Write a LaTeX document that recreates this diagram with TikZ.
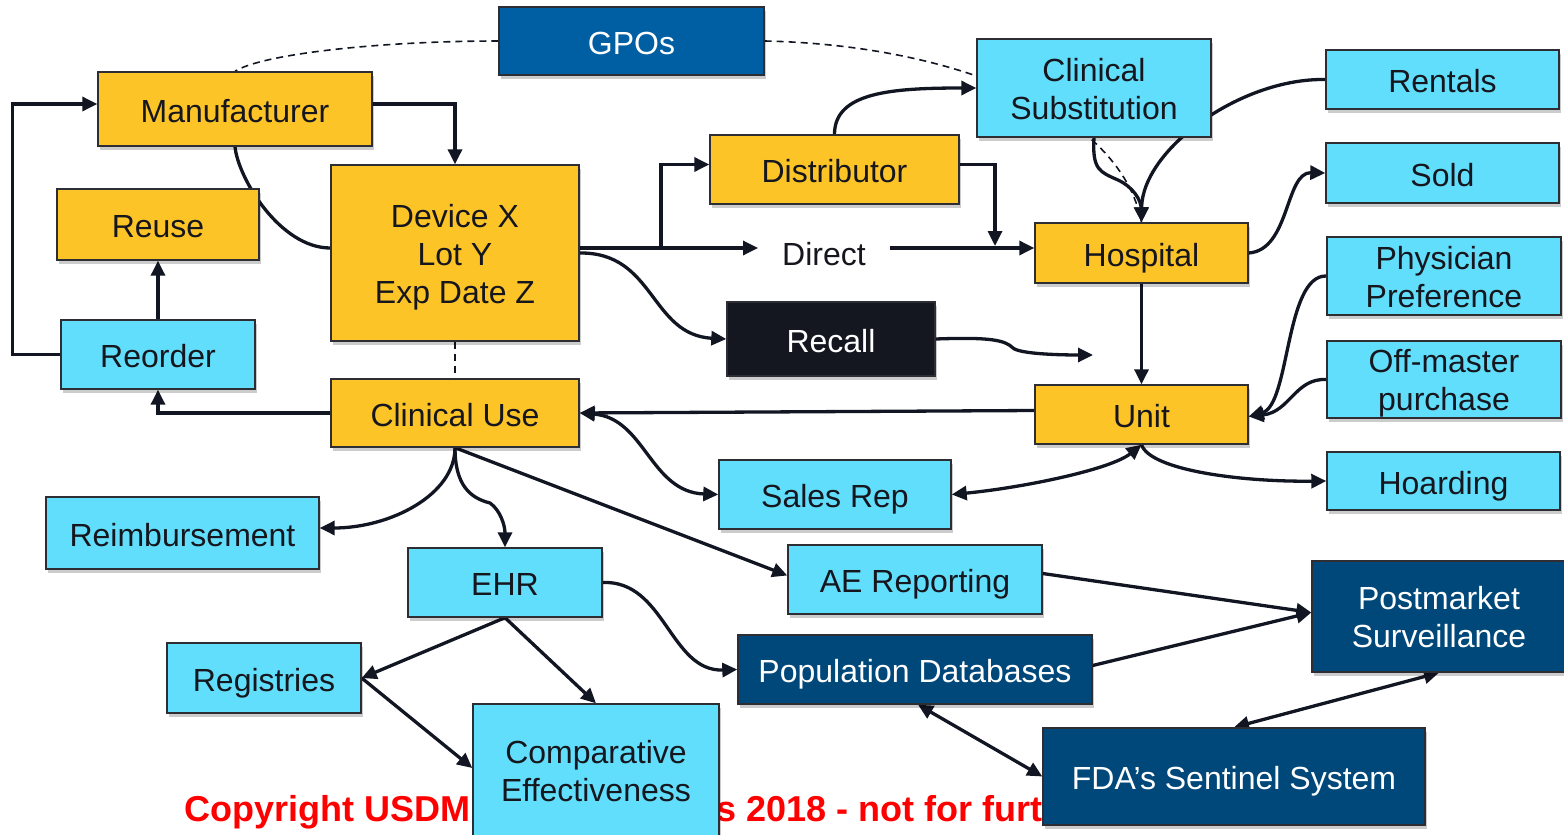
\documentclass[tikz,border=0pt]{standalone}
\usepackage{fontspec}
\setmainfont{Liberation Sans}
\usetikzlibrary{arrows.meta,shadows}

\definecolor{ylw}{RGB}{252,196,38}
\definecolor{cyn}{RGB}{97,222,251}
\definecolor{gpoblue}{RGB}{0,94,162}
\definecolor{navy}{RGB}{0,72,122}
\definecolor{blk}{RGB}{20,22,32}
\definecolor{wire}{RGB}{18,22,35}
\definecolor{edge}{RGB}{45,45,52}
\definecolor{ink}{RGB}{22,22,30}

\pgfdeclarelayer{bg}
\pgfsetlayers{bg,main}

\begin{document}
\begin{tikzpicture}[x=1pt,y=-1pt,
  box/.style={draw=edge, line width=1.4pt, inner sep=0pt, align=center,
    font=\fontsize{32}{38}\selectfont, text=ink, text height=26pt, text depth=0pt,
    drop shadow={shadow xshift=2pt, shadow yshift=-4pt, opacity=0.2, fill=black}},
  two/.style={text height=62pt},
  three/.style={text height=101pt},
  ybox/.style={box, fill=ylw},
  cbox/.style={box, fill=cyn},
  nbox/.style={box, fill=navy, text=white},
  conn/.style={line width=3.3pt, draw=wire},
  tip/.style={-{Triangle[length=15pt,width=14pt]}},
  tips/.style={{Triangle[length=15pt,width=14pt]}-{Triangle[length=15pt,width=14pt]}},
  dashline/.style={draw=wire, line width=1.6pt, dash pattern=on 7pt off 5pt},
  notice/.style={anchor=base west, inner sep=0pt, text=red, font=\fontsize{36}{43}\selectfont\bfseries},
]
\useasboundingbox (0,0) rectangle (1564,835);

% ---------- boxes ----------
\node[box, fill=gpoblue, text=white, minimum width=265pt, minimum height=68pt] (gpo) at (631.5,41) {GPOs};
\node[ybox, minimum width=274pt, minimum height=74pt] (man) at (235,109) {Manufacturer};
\node[ybox, three, minimum width=248pt, minimum height=176pt] (dev) at (455,253) {Device X\\Lot Y\\Exp Date Z};
\node[ybox, minimum width=202pt, minimum height=71pt] (reuse) at (158,224.5) {Reuse};
\node[cbox, minimum width=194pt, minimum height=69pt] (reorder) at (158,354.5) {Reorder};
\node[ybox, minimum width=248pt, minimum height=68pt] (cuse) at (455,413) {Clinical Use};
\node[ybox, minimum width=249pt, minimum height=69pt] (dist) at (834.5,169.5) {Distributor};
\node[inner xsep=24pt, inner ysep=0pt, font=\fontsize{32}{38}\selectfont, text=ink] (direct) at (824,254) {Direct};
\node[box, fill=blk, text=white, minimum width=208pt, minimum height=74pt] (recall) at (831,339) {Recall};
\node[cbox, two, minimum width=234pt, minimum height=98pt] (csub) at (1094,88) {Clinical\\Substitution};
\node[cbox, minimum width=233pt, minimum height=59pt] (rent) at (1442.5,79.5) {Rentals};
\node[cbox, minimum width=233pt, minimum height=60pt] (sold) at (1442.5,173) {Sold};
\node[ybox, minimum width=213pt, minimum height=60pt] (hosp) at (1141.5,253) {Hospital};
\node[cbox, two, minimum width=234pt, minimum height=78pt] (phys) at (1444,276) {Physician\\Preference};
\node[cbox, two, minimum width=234pt, minimum height=77pt] (offm) at (1444,379.5) {Off-master\\purchase};
\node[ybox, minimum width=213pt, minimum height=59pt] (unit) at (1141.5,414.5) {Unit};
\node[cbox, minimum width=233pt, minimum height=58pt] (hoard) at (1443.5,481) {Hoarding};
\node[cbox, minimum width=232pt, minimum height=69pt] (sales) at (835,494.5) {Sales Rep};
\node[cbox, minimum width=273pt, minimum height=72pt] (reimb) at (182.5,533) {Reimbursement};
\node[cbox, minimum width=194pt, minimum height=69pt] (ehr) at (505,582.5) {EHR};
\node[cbox, minimum width=254pt, minimum height=69pt] (ae) at (915,579.5) {AE Reporting};
\node[nbox, two, minimum width=254pt, minimum height=111pt] (pms) at (1439,616.5) {Postmarket\\Surveillance};
\node[cbox, minimum width=194pt, minimum height=70pt] (reg) at (264,678) {Registries};
\node[nbox, minimum width=354pt, minimum height=69pt] (popdb) at (915,669.5) {Population Databases};
\node[cbox, two, minimum width=246pt, minimum height=132pt] (comp) at (596,770) {Comparative\\Effectiveness};
\node[nbox, minimum width=382pt, minimum height=97pt] (fda) at (1234,776.5) {FDA’s Sentinel System};

% ---------- notice and connectors, drawn beneath the boxes ----------
\begin{pgfonlayer}{bg}
\node[notice] (noticeA) at (184,821) {Copyright USDM Life};
\node[notice] (noticeB) at (580,821) {Sciences 2018 - not for further distribution};

\coordinate (br) at (661,248);
\coordinate (dh) at (995,246);
\coordinate (rc) at (1093,355);

% supply chain
\draw[conn,tip] ([yshift=5pt]man.east) -| (dev.north);
\draw[conn] (man.south) .. controls (238,178) and (280,248) .. ([yshift=5pt]dev.west);
\draw[conn,tip] ([yshift=5pt]dev.east) -- (direct.west |- br);
\draw[conn,tip] (br) |- ([yshift=5pt]dist.west);
\draw[conn,tip] (direct.east |- br) -- ([yshift=5pt]hosp.west);
\draw[conn,tip] ([yshift=5pt]dist.east) -| (dh);
\draw[conn,tip] (dist.north) .. controls +(0,-42) and +(-85,0) .. (csub.west);
\draw[conn,tip] (dev.east) .. controls (655,252) and (650,335) .. (recall.west);
\draw[conn,tip] (recall.east) .. controls (990,337) and (1005,340) .. (1013,348)
  .. controls (1020,354) and (1060,355) .. (rc);

% GPO links
\draw[dashline] (gpo.west) .. controls (380,41) and (262,54) .. (man.north);
\draw[dashline] (gpo.east) .. controls (950,45) and (1120,110) .. (hosp.north);
\draw[dashline] (dev.south) -- (cuse.north);

% hospital side
\draw[conn,tip] (csub.south) .. controls (1092,170) and (1100,172) .. (1118,180)
  .. controls (1133,187) and (1141,200) .. (hosp.north);
\draw[conn,tip] (rent.west) .. controls (1240,78) and (1142,150) .. (hosp.north);
\draw[conn,tip] (hosp.east) .. controls (1290,250) and (1285,172) .. (sold.west);
\draw[conn,tip] (hosp.south) -- (unit.north);
\draw[conn,tip] (phys.west) .. controls (1285,275) and (1290,405) .. ([yshift=-2pt]unit.east);
\draw[conn,tip] (offm.west) .. controls (1295,378) and (1290,412) .. ([yshift=-2pt]unit.east);
\draw[conn,tip] (unit.south) .. controls (1150,470) and (1240,482) .. (hoard.west);
\draw[conn,tips] (sales.east) .. controls (1020,488) and (1110,470) .. (unit.south);
\draw[conn,tip] ([yshift=4pt]unit.west) -- (cuse.east);
\draw[conn,tips] (cuse.east) .. controls (645,418) and (650,492) .. (sales.west);

% reuse loop
\draw[conn,tip] (cuse.west) -| (reorder.south);
\draw[conn,tip] (reorder.north) -- (reuse.south);
\draw[conn,tip] (reorder.west) -- ++(-48,0) |- ([yshift=5pt]man.west);

% data flows
\draw[conn,tip] (cuse.south) .. controls (455,495) and (390,528) .. ([yshift=5pt]reimb.east);
\draw[conn,tip] (cuse.south) .. controls (455,485) and (470,498) .. (490,503)
  .. controls (500,510) and (505,525) .. (ehr.north);
\draw[conn,tip] (cuse.south) -- ([yshift=4pt]ae.west);
\draw[conn,tip] (ehr.east) .. controls (665,580) and (670,672) .. (popdb.west);
\draw[conn,tip] (ehr.south) -- (reg.east);
\draw[conn,tip] (ehr.south) -- (comp.north);
\draw[conn,tip] (reg.east) -- ([yshift=2pt]comp.west);
\draw[conn,tip] ([yshift=6pt]ae.east) -- ([yshift=4pt]pms.west);
\draw[conn,tip] ([yshift=4pt]popdb.east) -- ([yshift=4pt]pms.west);
\draw[conn,tips] ([xshift=3pt]popdb.south) -- (fda.west);
\draw[conn,tips] (pms.south) -- (fda.north);
\end{pgfonlayer}
\end{tikzpicture}
\end{document}
